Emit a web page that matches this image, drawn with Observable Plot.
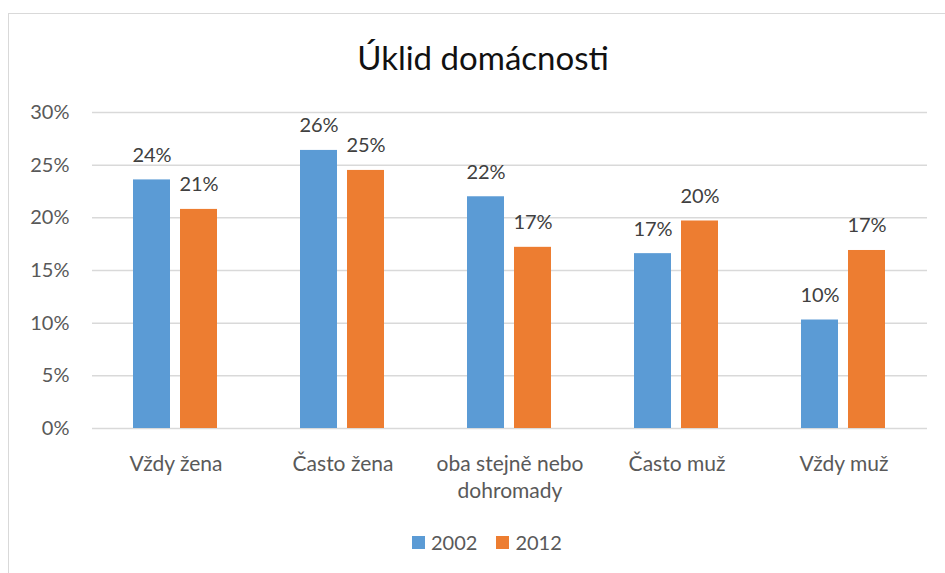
<!DOCTYPE html>
<html>
<head>
<meta charset="utf-8">
<script src="https://cdn.jsdelivr.net/npm/d3@7"></script>
<script src="https://cdn.jsdelivr.net/npm/@observablehq/plot@0.6"></script>
<style>
html, body { margin: 0; padding: 0; background: #fff; }
#chart { position: relative; width: 945px; height: 573px; overflow: hidden; font-family: Lato, sans-serif; background: #fff; }
#frame { position: absolute; left: 8px; top: 13px; width: 960px; height: 600px; border: 1.5px solid #d9d9d9; box-sizing: border-box; pointer-events: none; }
#title { height: 95px; box-sizing: border-box; width: 945px; padding-top: 41px; padding-left: 21px; line-height: 33px; font-size: 33px; text-align: center; color: #111; margin: 0; font-weight: normal; }
#plot svg { display: block; }
#legend { display: flex; align-items: center; padding-left: 412px; padding-top: 29px; height: 20px; line-height: 20px; font-size: 20px; color: #595959; }
#legend .sw { width: 13px; height: 13px; margin-right: 6px; }
#legend .item { display: flex; align-items: center; margin-right: 19px; }
</style>
</head>
<body>
<div id="chart">
  <div id="title">Úklid domácnosti</div>
  <div id="plot"></div>
  <div id="legend"></div>
  <div id="frame"></div>
</div>
<script>
const categories = ["Vždy žena", "Často žena", "oba stejně nebo dohromady", "Často muž", "Vždy muž"];
const categoryLabels = ["Vždy žena", "Často žena", "oba stejně nebo\ndohromady", "Často muž", "Vždy muž"];
const years = ["2002", "2012"];
const values2002 = [0.236, 0.264, 0.220, 0.166, 0.103];
const values2012 = [0.208, 0.245, 0.172, 0.197, 0.169];
const yTicks = [0, 0.05, 0.10, 0.15, 0.20, 0.25, 0.30];
const colors = ["#5B9BD5", "#ED7D31"];

const data = [];
categories.forEach((c, i) => {
  data.push({category: c, year: years[0], value: values2002[i]});
  data.push({category: c, year: years[1], value: values2012[i]});
});
const labelOf = new Map(categories.map((c, i) => [c, categoryLabels[i]]));
const pct = d => Math.round(d * 100) + "%";

const chart = Plot.plot({
  width: 945,
  height: 408,
  marginTop: 17,
  marginBottom: 75,
  marginLeft: 90,
  marginRight: 16,
  style: {fontFamily: "Lato, sans-serif", fontSize: "20px", color: "#595959", background: "transparent"},
  fx: {domain: categories, padding: 0},
  x: {domain: years, paddingInner: 0.208, paddingOuter: 0.852, axis: null},
  y: {domain: [0, 0.3]},
  color: {domain: years, range: colors},
  marks: [
    Plot.gridY(yTicks, {stroke: "#d9d9d9", strokeOpacity: 1, strokeWidth: 1.5}),
    Plot.axisY(yTicks, {tickSize: 0, tickPadding: 23, tickFormat: pct, fill: "#595959", fontSize: 20, label: null}),
    Plot.axisFx({anchor: "bottom", tickSize: 0, tickPadding: 23, tickFormat: d => labelOf.get(d), lineHeight: 1.3, fill: "#595959", fontSize: 21, label: null}),
    Plot.barY(data, {fx: "category", x: "year", y: "value", fill: "year"}),
    Plot.text(data, {fx: "category", x: "year", y: "value", text: d => pct(d.value), lineAnchor: "bottom", dy: -18, fill: "#404040", fontSize: 20})
  ]
});
document.getElementById("plot").appendChild(chart);

const legend = document.getElementById("legend");
years.forEach((y, i) => {
  const item = document.createElement("div");
  item.className = "item";
  const sw = document.createElement("div");
  sw.className = "sw";
  sw.style.background = colors[i];
  const t = document.createElement("span");
  t.textContent = y;
  item.appendChild(sw);
  item.appendChild(t);
  legend.appendChild(item);
});
</script>
</body>
</html>
